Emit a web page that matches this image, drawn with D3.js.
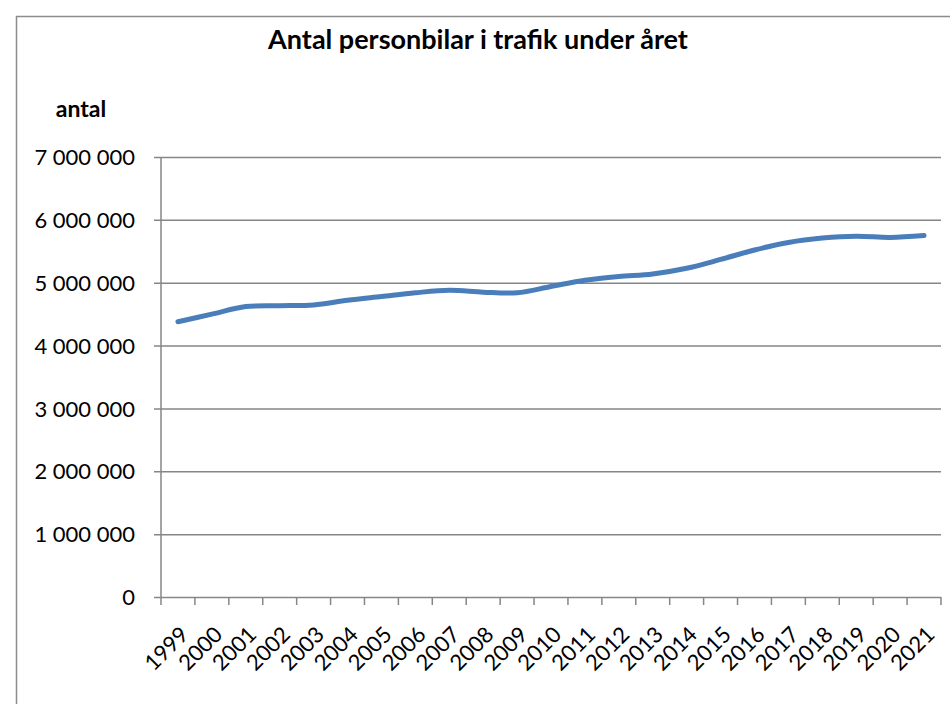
<!DOCTYPE html>
<html>
<head>
<meta charset="utf-8">
<script src="https://cdn.jsdelivr.net/npm/d3@7"></script>
<style>
  body { margin: 0; background: #fff; }
  text { font-family: Lato, "Open Sans", sans-serif; fill: #000; }
</style>
</head>
<body>
<div id="chart"></div>
<script>
(function () {

// years on the category axis
const years = ["1999","2000","2001","2002","2003","2004","2005","2006","2007","2008","2009",
  "2010","2011","2012","2013","2014","2015","2016","2017","2018","2019","2020","2021"];

// personbilar i trafik
const cars = [4380000, 4500000, 4620000, 4635000, 4645000, 4720000, 4780000, 4840000, 4880000, 4850000, 4840000,
  4940000, 5040000, 5100000, 5140000, 5230000, 5370000, 5520000, 5640000, 5710000, 5740000, 5720000, 5750000];

const yTicks = [0, 1000000, 2000000, 3000000, 4000000, 5000000, 6000000, 7000000];

const W = 950, H = 704;
const margin = {top: 157, right: 9, bottom: 107, left: 161};
const width = W - margin.left - margin.right,
      height = H - margin.top - margin.bottom;

const svg = d3.select("#chart").append("svg")
    .attr("width", W)
    .attr("height", H);

// outer chart frame (runs off the right and bottom edges)
svg.append("rect")
  .attr("x", 16.5).attr("y", 16.5)
  .attr("width", 960).attr("height", 720)
  .attr("fill", "none")
  .attr("stroke", "#8c8c8c")
  .attr("stroke-width", 1.5);

svg.append("text")
  .attr("x", 478).attr("y", 49)
  .attr("text-anchor", "middle")
  .style("font-weight", "bold")
  .style("font-size", "27px")
  .text("Antal personbilar i trafik under året");

svg.append("text")
  .attr("x", 81).attr("y", 117)
  .attr("text-anchor", "middle")
  .style("font-weight", "bold")
  .style("font-size", "23px")
  .text("antal");

const g = svg.append("g")
  .attr("transform", "translate(" + margin.left + "," + margin.top + ")");

const x = d3.scaleBand().domain(years).range([0, width]);
const y = d3.scaleLinear().domain([0, 7000000]).range([height, 0]);

const fmt = v => d3.format(",")(v).replace(/,/g, " ");

// gridlines + y axis
const yAxis = g.append("g")
  .call(d3.axisLeft(y).tickValues(yTicks).tickSize(-width - 7).tickPadding(26).tickFormat(fmt));
yAxis.select(".domain").remove();
yAxis.selectAll(".tick line")
  .attr("x1", -7)
  .attr("x2", width)
  .attr("stroke", "#868686")
  .attr("stroke-width", 1.5);
yAxis.selectAll(".tick text")
  .style("font-size", "22px")
  .attr("dy", "0.35em");

g.append("line")
  .attr("x1", 0).attr("x2", 0)
  .attr("y1", 0).attr("y2", height)
  .attr("stroke", "#868686")
  .attr("stroke-width", 1.5);

// x axis: ticks between categories
const xAxis = g.append("g").attr("transform", "translate(0," + height + ")");
const edges = years.map(d => x(d)).concat([width]);
xAxis.selectAll("line.tk")
  .data(edges)
  .join("line")
  .attr("class", "tk")
  .attr("x1", d => d).attr("x2", d => d)
  .attr("y1", 0).attr("y2", 8)
  .attr("stroke", "#868686")
  .attr("stroke-width", 1.5);
xAxis.selectAll("text")
  .data(years)
  .join("text")
  .attr("transform", d => "translate(" + (x(d) + x.bandwidth() / 2 + 1) + ",28) rotate(-45)")
  .attr("text-anchor", "end")
  .attr("dy", "0.7em")
  .style("font-size", "22px")
  .text(d => d);

// the series
const line = d3.line()
  .x((d, i) => x(years[i]) + x.bandwidth() / 2)
  .y(d => y(d))
  .curve(d3.curveCatmullRom.alpha(0.5));

g.append("path")
  .datum(cars)
  .attr("d", line)
  .attr("fill", "none")
  .attr("stroke", "#4a7ebb")
  .attr("stroke-width", 5)
  .attr("stroke-linecap", "round")
  .attr("stroke-linejoin", "round");

})()
</script>
</body>
</html>
